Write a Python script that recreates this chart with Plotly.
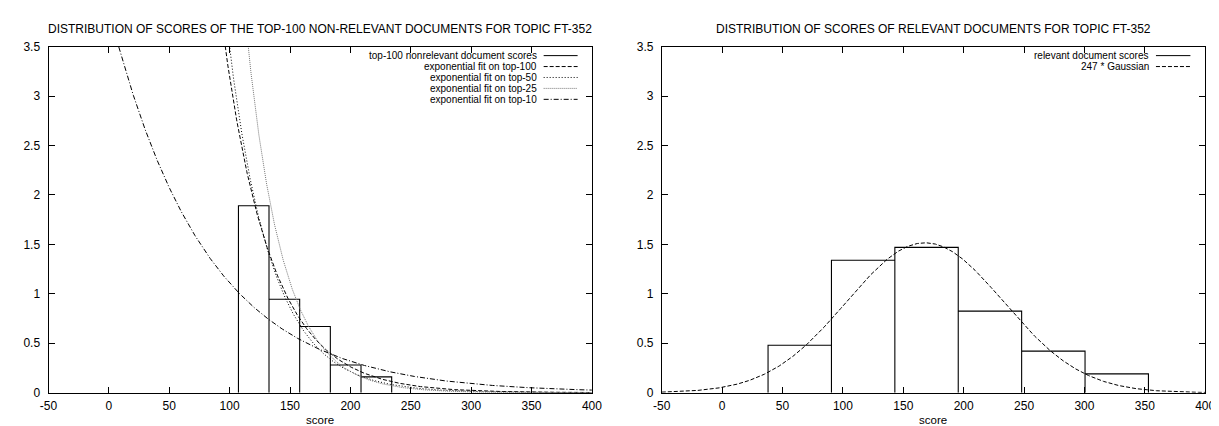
import numpy as np
import plotly.graph_objects as go

# ---------------- data ----------------
# left: histogram of top-100 non-relevant document scores
nonrel_bin_edges = [107.3, 132.6, 158.0, 183.4, 208.8, 234.2]
nonrel_heights = [1.89, 0.945, 0.67, 0.28, 0.16]

# exponential fits: f(x) = value_at_100 * exp(-rate * (x - 100))
fit_names = ["exponential fit on top-100", "exponential fit on top-50",
             "exponential fit on top-25", "exponential fit on top-10"]
fit_value_at_100 = [3.19, 3.48, 5.8, 1.11]
fit_rate = [0.025, 0.028, 0.033, 0.0125]
fit_dash = ["4px,2px", "1px,2px", "1px,1px", "5px,2px,1px,2px"]
fit_color = ["#000000", "#000000", "#777777", "#000000"]

# right: histogram of relevant document scores
rel_bin_edges = [38.0, 90.5, 143.0, 195.5, 248.0, 300.5, 353.0]
rel_heights = [0.48, 1.34, 1.47, 0.825, 0.42, 0.19]

gauss_scale = 247
gauss_mu = 168.0
gauss_sigma = 65.0

x_ticks = [-50, 0, 50, 100, 150, 200, 250, 300, 350, 400]
y_ticks = [0, 0.5, 1, 1.5, 2, 2.5, 3, 3.5]
y_tick_text = ["0", "0.5", "1", "1.5", "2", "2.5", "3", "3.5"]

left_title = "DISTRIBUTION OF SCORES OF THE TOP-100 NON-RELEVANT DOCUMENTS FOR TOPIC FT-352"
right_title = "DISTRIBUTION OF SCORES OF RELEVANT DOCUMENTS FOR TOPIC FT-352"

# ---------------- helpers ----------------
W, H = 1219, 426
FONT = "Liberation Sans, Arial, sans-serif"


def px_x(p):
    return p / W


def px_y(p):
    return (H - p) / H


def box_path(edges, heights):
    xs, ys = [], []
    for i, h in enumerate(heights):
        l, r = edges[i], edges[i + 1]
        xs += [l, l, r, r]
        ys += [0, h, h, 0]
    return xs, ys


fig = go.Figure()

# left histogram
hx, hy = box_path(nonrel_bin_edges, nonrel_heights)
fig.add_trace(go.Scatter(x=hx, y=hy, mode="lines", line=dict(color="black", width=1.1),
                         xaxis="x", yaxis="y", showlegend=False, hoverinfo="skip"))

xs = np.linspace(-50, 400, 1500)
for name, a, r, d, c in zip(fit_names, fit_value_at_100, fit_rate, fit_dash, fit_color):
    ys = a * np.exp(-r * (xs - 100))
    ys = np.where(ys > 4.0, np.nan, ys)
    fig.add_trace(go.Scatter(x=xs, y=ys, mode="lines", name=name,
                             line=dict(color=c, width=1, dash=d),
                             xaxis="x", yaxis="y", showlegend=False, hoverinfo="skip"))

# right histogram
rx, ry = box_path(rel_bin_edges, rel_heights)
fig.add_trace(go.Scatter(x=rx, y=ry, mode="lines", line=dict(color="black", width=1.1),
                         xaxis="x2", yaxis="y2", showlegend=False, hoverinfo="skip"))
gy = gauss_scale / (gauss_sigma * np.sqrt(2 * np.pi)) * np.exp(-(xs - gauss_mu) ** 2 / (2 * gauss_sigma ** 2))
fig.add_trace(go.Scatter(x=xs, y=gy, mode="lines", line=dict(color="black", width=1, dash="4px,2px"),
                         xaxis="x2", yaxis="y2", showlegend=False, hoverinfo="skip"))

# axes
L0, L1, R0, R1 = 32, 584, 655, 1207
TOP, BOT = 32.7, 390.5
axis_common = dict(showline=True, linecolor="black", linewidth=1, mirror="allticks",
                   ticks="inside", ticklen=6, tickcolor="black", tickwidth=1,
                   showgrid=False, zeroline=False,
                   tickfont=dict(family=FONT, size=12, color="black"))
xa = dict(axis_common, range=[-50, 400], tickmode="array", tickvals=x_ticks,
          ticktext=[str(v) for v in x_ticks], ticklabelstandoff=2)
ya = dict(axis_common, range=[0, 3.5], tickmode="array", tickvals=y_ticks,
          ticktext=y_tick_text, ticklabelstandoff=5,
          domain=[px_y(BOT), px_y(TOP)])

fig.update_layout(
    width=W, height=H, margin=dict(l=0, r=0, t=0, b=0),
    paper_bgcolor="white", plot_bgcolor="white",
    xaxis=dict(xa, domain=[px_x(L0), px_x(L1)], anchor="y"),
    yaxis=dict(ya, anchor="x"),
    xaxis2=dict(xa, domain=[px_x(R0), px_x(R1)], anchor="y2"),
    yaxis2=dict(ya, anchor="x2"),
    showlegend=False,
)

annotations = []
shapes = []
# titles
for title, a, b in [(left_title, L0, L1), (right_title, R0, R1)]:
    annotations.append(dict(text=title, x=px_x((a + b) / 2), y=px_y(14), xref="paper", yref="paper",
                            xanchor="center", yanchor="middle", showarrow=False,
                            font=dict(family=FONT, size=12, color="black")))
    annotations.append(dict(text="score", x=px_x((a + b) / 2), y=px_y(419), xref="paper", yref="paper",
                            xanchor="center", yanchor="middle", showarrow=False,
                            font=dict(family=FONT, size=11.5, color="black")))

# legends (gnuplot style: text right-aligned, sample to the right)
LEG_FONT = 10
LEG_Y0, LEG_DY = 42, 11.3
left_leg_names = ["top-100 nonrelevant document scores"] + fit_names
left_leg_dash = ["solid"] + fit_dash
left_leg_color = ["#000000"] + fit_color
for i, (n, d, c) in enumerate(zip(left_leg_names, left_leg_dash, left_leg_color)):
    yy = LEG_Y0 + i * LEG_DY
    annotations.append(dict(text=n, x=px_x(529.5), y=px_y(yy), xref="paper", yref="paper",
                            xanchor="right", yanchor="middle", showarrow=False, borderpad=0,
                            font=dict(family=FONT, size=LEG_FONT, color="black")))
    shapes.append(dict(type="line", xref="paper", yref="paper", x0=px_x(535), x1=px_x(569.5),
                       y0=px_y(yy), y1=px_y(yy), line=dict(color=c, width=1, dash=d)))

right_leg_names = ["relevant document scores", "247 * Gaussian"]
right_leg_dash = ["solid", "4px,2px"]
for i, (n, d) in enumerate(zip(right_leg_names, right_leg_dash)):
    yy = LEG_Y0 + i * LEG_DY
    annotations.append(dict(text=n, x=px_x(1151), y=px_y(yy), xref="paper", yref="paper",
                            xanchor="right", yanchor="middle", showarrow=False, borderpad=0,
                            font=dict(family=FONT, size=LEG_FONT, color="black")))
    shapes.append(dict(type="line", xref="paper", yref="paper", x0=px_x(1157), x1=px_x(1192),
                       y0=px_y(yy), y1=px_y(yy), line=dict(color="black", width=1, dash=d)))

fig.update_layout(annotations=annotations, shapes=shapes)
fig.write_html("out.html")
